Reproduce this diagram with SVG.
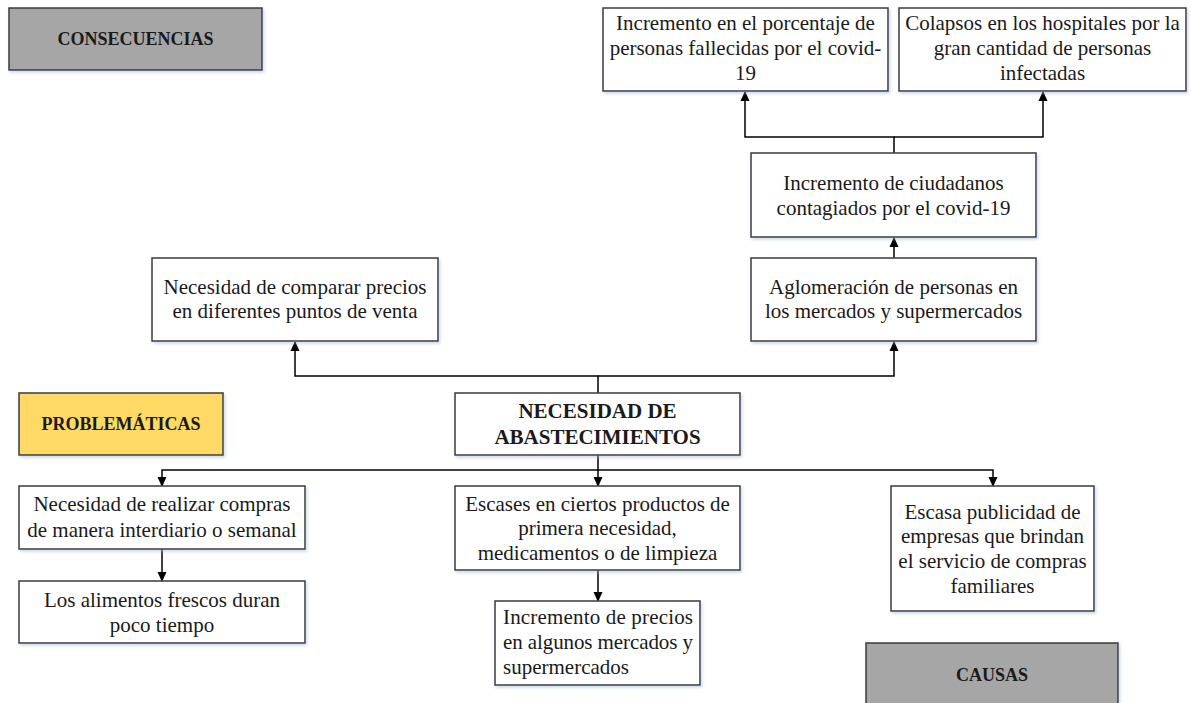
<svg xmlns="http://www.w3.org/2000/svg" width="1191" height="703" viewBox="0 0 1191 703">
<defs>
<style>
.box{fill:#ffffff;stroke:#3a3a3a;stroke-width:1.5}
.gray{fill:#a6a6a6;stroke:#3a3a3a;stroke-width:1.5}
.yellow{fill:#ffd966;stroke:#3a3a3a;stroke-width:1.5}
.t{font-family:"Liberation Serif","Times New Roman",serif;font-size:21px;fill:#1a1a1a;text-anchor:middle}
.tl{font-family:"Liberation Serif","Times New Roman",serif;font-size:21px;fill:#1a1a1a}
.b{font-family:"Liberation Serif","Times New Roman",serif;font-size:18px;font-weight:bold;fill:#1a1a1a;text-anchor:middle}
.bc{font-family:"Liberation Serif","Times New Roman",serif;font-size:21px;font-weight:bold;fill:#1a1a1a;text-anchor:middle}
.c{fill:none;stroke:#000000;stroke-width:1.5}
</style>
<filter id="sh" x="-5%" y="-5%" width="115%" height="120%">
<feDropShadow dx="1.5" dy="2" stdDeviation="1.5" flood-color="#9bb3d6" flood-opacity="0.5"/>
</filter>
<marker id="ah" markerWidth="10" markerHeight="10" refX="9" refY="5" orient="auto" markerUnits="userSpaceOnUse">
<path d="M0,0.5 L10,5 L0,9.5 z" fill="#000000"/>
</marker>
</defs>

<g id="connectors">
<path class="c" d="M598,393 V376 H295 V342" marker-end="url(#ah)"/>
<path class="c" d="M598,376 H894 V342" marker-end="url(#ah)"/>
<path class="c" d="M894,258 V238" marker-end="url(#ah)"/>
<path class="c" d="M894,153 V137 H745 V92" marker-end="url(#ah)"/>
<path class="c" d="M894,137 H1043 V92" marker-end="url(#ah)"/>
<path class="c" d="M598,455 V470 H162 V486" marker-end="url(#ah)"/>
<path class="c" d="M598,470 V486" marker-end="url(#ah)"/>
<path class="c" d="M598,470 H993 V486" marker-end="url(#ah)"/>
<path class="c" d="M162,549 V581" marker-end="url(#ah)"/>
<path class="c" d="M598,570 V601" marker-end="url(#ah)"/>
</g>

<g id="consecuencias">
<rect class="gray" x="9" y="8" width="253" height="62" filter="url(#sh)"/>
<text class="b" x="135.5" y="45">CONSECUENCIAS</text>
</g>

<g id="fallecidos">
<rect class="box" x="603" y="8" width="285" height="83" filter="url(#sh)"/>
<text class="t" x="745.5" y="30">Incremento en el porcentaje de</text>
<text class="t" x="745.5" y="55">personas fallecidas por el covid-</text>
<text class="t" x="745.5" y="80">19</text>
</g>

<g id="colapsos">
<rect class="box" x="899" y="8" width="287" height="83" filter="url(#sh)"/>
<text class="t" x="1042.5" y="30">Colapsos en los hospitales por la</text>
<text class="t" x="1042.5" y="55">gran cantidad de personas</text>
<text class="t" x="1042.5" y="80">infectadas</text>
</g>

<g id="contagiados">
<rect class="box" x="751" y="153" width="285" height="84" filter="url(#sh)"/>
<text class="t" x="893.5" y="190">Incremento de ciudadanos</text>
<text class="t" x="893.5" y="215">contagiados por el covid-19</text>
</g>

<g id="aglomeracion">
<rect class="box" x="751" y="258" width="285" height="83" filter="url(#sh)"/>
<text class="t" x="893.5" y="294">Aglomeración de personas en</text>
<text class="t" x="893.5" y="318">los mercados y supermercados</text>
</g>

<g id="comparar">
<rect class="box" x="152" y="258" width="286" height="83" filter="url(#sh)"/>
<text class="t" x="295" y="294">Necesidad de comparar precios</text>
<text class="t" x="295" y="318">en diferentes puntos de venta</text>
</g>

<g id="problematicas">
<rect class="yellow" x="19" y="393" width="204" height="62" filter="url(#sh)"/>
<text class="b" x="121" y="430">PROBLEMÁTICAS</text>
</g>

<g id="necesidad">
<rect class="box" x="455" y="393" width="285" height="62" filter="url(#sh)"/>
<text class="bc" x="597.5" y="418">NECESIDAD DE</text>
<text class="bc" x="597.5" y="444">ABASTECIMIENTOS</text>
</g>

<g id="compras">
<rect class="box" x="19" y="486" width="286" height="63" filter="url(#sh)"/>
<text class="t" x="162" y="511">Necesidad de realizar compras</text>
<text class="t" x="162" y="537">de manera interdiario o semanal</text>
</g>

<g id="alimentos">
<rect class="box" x="19" y="581" width="286" height="62" filter="url(#sh)"/>
<text class="t" x="162" y="607">Los alimentos frescos duran</text>
<text class="t" x="162" y="632">poco tiempo</text>
</g>

<g id="escases">
<rect class="box" x="455" y="486" width="285" height="84" filter="url(#sh)"/>
<text class="t" x="597.5" y="511">Escases en ciertos productos de</text>
<text class="t" x="597.5" y="535">primera necesidad,</text>
<text class="t" x="597.5" y="560">medicamentos o de limpieza</text>
</g>

<g id="precios">
<rect class="box" x="495" y="601" width="205" height="84" filter="url(#sh)"/>
<text class="tl" x="503" y="624" textLength="190" lengthAdjust="spacing">Incremento de precios</text>
<text class="tl" x="503" y="649" textLength="190" lengthAdjust="spacing">en algunos mercados y</text>
<text class="tl" x="503" y="674">supermercados</text>
</g>

<g id="publicidad">
<rect class="box" x="891" y="486" width="203" height="125" filter="url(#sh)"/>
<text class="t" x="992.5" y="519">Escasa publicidad de</text>
<text class="t" x="992.5" y="543">empresas que brindan</text>
<text class="t" x="992.5" y="568">el servicio de compras</text>
<text class="t" x="992.5" y="593">familiares</text>
</g>

<g id="causas">
<rect class="gray" x="866" y="643" width="252" height="70" filter="url(#sh)"/>
<text class="b" x="992" y="681">CAUSAS</text>
</g>
</svg>
